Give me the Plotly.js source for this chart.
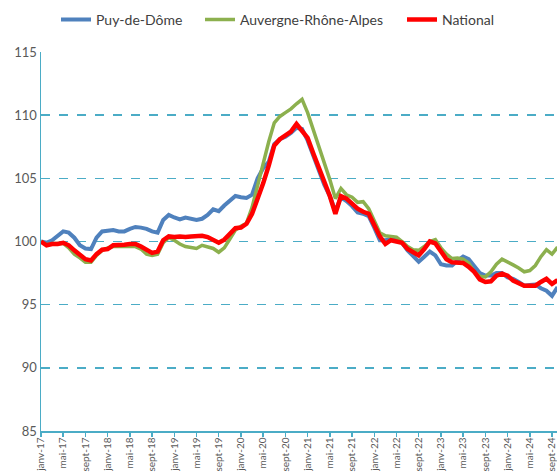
<!DOCTYPE html>
<html>
<head>
<meta charset="utf-8">
<script src="https://cdn.plot.ly/plotly-3.0.1.min.js"></script>
<style>html,body{margin:0;padding:0;background:#fff;}#chart{width:557px;height:473px;}</style>
</head>
<body>
<div id="chart"></div>
<script>
// Month names (French abbreviations) and years used to build the monthly categories
const monthNames = ['janv','févr','mars','avr','mai','juin','juil','août','sept','oct','nov','déc'];
const years = ['17','18','19','20','21','22','23','24'];
const months = [];
years.forEach(y => monthNames.forEach(m => months.push(m + '-' + y)));
const categories = months.slice(0, 94); // janv-17 .. oct-24

// Tick labels shown every 4 months
const tickLabels = ['janv-17','mai-17','sept-17','janv-18','mai-18','sept-18','janv-19','mai-19','sept-19',
  'janv-20','mai-20','sept-20','janv-21','mai-21','sept-21','janv-22','mai-22','sept-22',
  'janv-23','mai-23','sept-23','janv-24','mai-24','sept-24'];

const puyDeDome = [
  100.0, 99.9, 100.1, 100.5, 100.8, 100.7, 100.3, 99.7, 99.45, 99.4, 100.3, 100.8,
  100.85, 100.9, 100.8, 100.8, 101.0, 101.15, 101.1, 101.0, 100.8, 100.7, 101.7, 102.1,
  101.9, 101.75, 101.9, 101.8, 101.7, 101.8, 102.1, 102.55, 102.4, 102.85, 103.2, 103.6,
  103.5, 103.45, 103.7, 105.0, 105.8, 106.3, 107.7, 108.1, 108.3, 108.6, 109.0, 108.9,
  108.0, 106.8, 105.5, 104.5, 103.6, 102.4, 103.5, 103.2, 102.8, 102.3, 102.2, 102.0,
  101.1, 100.1, 100.1, 100.2, 100.15, 99.9, 99.3, 98.9, 98.4, 98.8, 99.2, 98.9,
  98.2, 98.1, 98.1, 98.5, 98.8, 98.6, 98.0, 97.5, 97.3, 97.3, 97.5, 97.5,
  97.15, 97.05, 96.8, 96.5, 96.55, 96.6, 96.3, 96.1, 95.7, 96.4
];
const auvergneRhoneAlpes = [
  100.0, 99.75, 99.85, 99.85, 99.85, 99.5, 99.0, 98.7, 98.35, 98.35, 98.9, 99.3,
  99.5, 99.6, 99.6, 99.55, 99.6, 99.6, 99.4, 99.0, 98.9, 99.0, 99.9, 100.3,
  100.1, 99.8, 99.6, 99.5, 99.45, 99.7, 99.6, 99.45, 99.15, 99.5, 100.2, 100.9,
  101.2, 101.45, 102.7, 104.5, 106.3, 107.9, 109.4, 109.9, 110.2, 110.5, 110.9, 111.25,
  110.2, 108.9, 107.5, 106.2, 104.9, 103.4, 104.2, 103.7, 103.5, 103.1, 103.15, 102.6,
  101.6, 100.7, 100.45, 100.4, 100.35, 100.0, 99.6, 99.35, 99.3, 99.6, 100.0, 100.15,
  99.5, 99.0, 98.65, 98.7, 98.6, 98.3, 97.6, 97.25, 97.2, 97.6, 98.2, 98.6,
  98.4, 98.15, 97.9, 97.6, 97.7, 98.1, 98.8, 99.35, 99.0, 99.55
];
const national = [
  100.0, 99.7, 99.8, 99.8, 99.9, 99.7, 99.3, 99.0, 98.6, 98.5, 99.0, 99.35,
  99.4, 99.7, 99.7, 99.75, 99.8, 99.8, 99.6, 99.3, 99.1, 99.2, 100.1, 100.4,
  100.35, 100.4, 100.35, 100.4, 100.4, 100.45, 100.35, 100.1, 99.9, 100.15, 100.6, 101.05,
  101.1, 101.4, 102.2, 103.3, 104.6, 106.0, 107.6, 108.1, 108.4, 108.7, 109.3, 108.8,
  108.2, 107.0, 105.9, 104.7, 103.6, 102.2, 103.6, 103.4, 103.0, 102.6, 102.35, 102.2,
  101.3, 100.4, 99.8, 100.1, 100.0, 99.9, 99.4, 99.1, 98.9, 99.4, 100.0, 99.85,
  99.2, 98.6, 98.35, 98.3, 98.3, 98.0, 97.6, 97.0, 96.8, 96.85, 97.3, 97.45,
  97.3, 96.9, 96.65, 96.5, 96.5, 96.5, 96.8, 97.05, 96.65, 96.95
];

const seriesNames = ['Puy-de-Dôme', 'Auvergne-Rhône-Alpes', 'National'];
const yTicks = [85, 90, 95, 100, 105, 110, 115];

const teal = '#4BACC6';
const font = {family: 'Lato, "Liberation Sans", sans-serif', size: 14, color: '#404040'};

const traces = [
  {x: categories, y: puyDeDome, name: seriesNames[0], type: 'scatter', mode: 'lines',
   line: {color: '#4F81BD', width: 4}, legend: 'legend'},
  {x: categories, y: auvergneRhoneAlpes, name: seriesNames[1], type: 'scatter', mode: 'lines',
   line: {color: '#8CB04E', width: 3.5}, legend: 'legend2'},
  {x: categories, y: national, name: seriesNames[2], type: 'scatter', mode: 'lines',
   line: {color: '#FF0000', width: 4.5}, legend: 'legend3'}
];

function legendAt(xpx) {
  return {orientation: 'h', x: (xpx - 41) / 516, xanchor: 'left', y: 1.085, yanchor: 'middle',
          font: font, bgcolor: 'rgba(0,0,0,0)', itemwidth: 30};
}

const layout = {
  width: 557, height: 473,
  margin: {l: 41, r: 0, t: 52, b: 42},
  paper_bgcolor: '#fff', plot_bgcolor: '#fff',
  showlegend: true,
  legend: legendAt(56),
  legend2: legendAt(200),
  legend3: legendAt(402),
  xaxis: {
    type: 'category', categoryorder: 'array', categoryarray: categories,
    range: [0, 92.9],
    tickmode: 'array', tickvals: tickLabels, ticktext: tickLabels,
    tickangle: -90, ticks: 'outside', ticklen: 4, tickcolor: teal, tickwidth: 1.5,
    ticklabelstandoff: -3,
    showline: true, linecolor: teal, linewidth: 1.5,
    showgrid: false, zeroline: false,
    tickfont: {family: font.family, size: 10, color: '#595959'}
  },
  yaxis: {
    range: [85, 115], tickmode: 'array', tickvals: yTicks,
    showline: true, linecolor: teal, linewidth: 1.5,
    showgrid: true, gridcolor: teal, gridwidth: 1.5, griddash: 'dash',
    zeroline: false, ticks: '',
    tickfont: {family: font.family, size: 13, color: '#595959'}
  }
};

Plotly.newPlot('chart', traces, layout, {displayModeBar: false, staticPlot: true});
</script>
</body>
</html>
